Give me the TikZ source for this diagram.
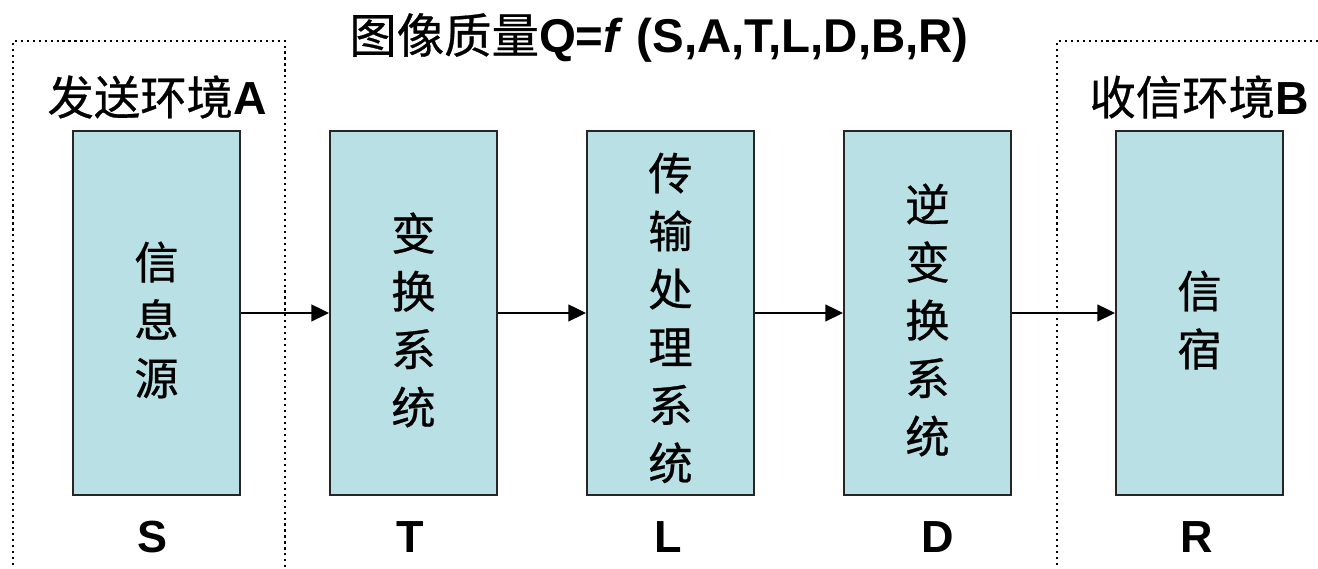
\documentclass[tikz,border=0pt]{standalone}
\usepackage{fontspec}
\setmainfont{Liberation Sans}
\newfontfamily\cjk[FakeBold=0.6]{Noto Sans CJK SC}
\usetikzlibrary{arrows.meta}
\definecolor{boxcol}{RGB}{185,224,228}
\tikzset{
  sysbox/.style={draw=black!85, line width=0.6pt, fill=boxcol, minimum width=1.67cm, minimum height=3.64cm, inner sep=0pt},
  vtext/.style={font=\cjk\fontsize{12.6}{16.5}\selectfont, align=center, inner sep=0pt},
  letter/.style={font=\fontsize{12.8}{14}\selectfont\bfseries, inner sep=0pt},
  envlabel/.style={font=\fontsize{13.2}{15}\selectfont, inner sep=0pt},
  frame/.style={line width=0.6pt, dash pattern=on 0.6pt off 1.1pt},
  flow/.style={line width=0.45pt, -{Triangle[length=5pt,width=4.8pt]}}
}
\begin{document}
\begin{tikzpicture}
\useasboundingbox (0,0) rectangle (13.18,5.69);
% dotted environment frames
\draw[frame] (0.13,-0.2) -- (0.13,5.28) -- (2.85,5.28) -- (2.85,-0.2);
\draw[frame] (10.57,-0.2) -- (10.57,5.28) -- (13.4,5.28);
% title
\node[font=\fontsize{13.5}{15}\selectfont\bfseries, inner sep=0pt] (title) at (6.59,5.31)
  {{\cjk\mdseries 图像质量}Q=\textit{f} (S,A,T,L,D,B,R)};
\node[envlabel] (envA) at (1.57,4.72) {{\cjk 发送环境}\textbf{A}};
\node[envlabel] (envB) at (11.99,4.72) {{\cjk 收信环境}\textbf{B}};
% boxes
\node[sysbox] (S) at (1.565,2.56) {};
\node[sysbox] (T) at (4.135,2.56) {};
\node[sysbox] (L) at (6.705,2.56) {};
\node[sysbox] (D) at (9.275,2.56) {};
\node[sysbox] (R) at (11.995,2.56) {};
\node[vtext] (tS) at (1.565,2.49) {信\\息\\源};
\node[vtext] (tT) at (4.135,2.49) {变\\换\\系\\统};
\node[vtext] (tL) at (6.705,2.51) {传\\输\\处\\理\\系\\统};
\node[vtext] (tD) at (9.275,2.49) {逆\\变\\换\\系\\统};
\node[vtext] (tR) at (11.995,2.49) {信\\宿};
% letters
\node[letter] (lS) at (1.53,0.32) {S};
\node[letter] (lT) at (4.10,0.32) {T};
\node[letter] (lL) at (6.68,0.32) {L};
\node[letter] (lD) at (9.38,0.32) {D};
\node[letter] (lR) at (11.97,0.32) {R};
% arrows
\draw[flow] (S.east) -- (T.west);
\draw[flow] (T.east) -- (L.west);
\draw[flow] (L.east) -- (D.west);
\draw[flow] (D.east) -- (R.west);
\end{tikzpicture}
\end{document}
